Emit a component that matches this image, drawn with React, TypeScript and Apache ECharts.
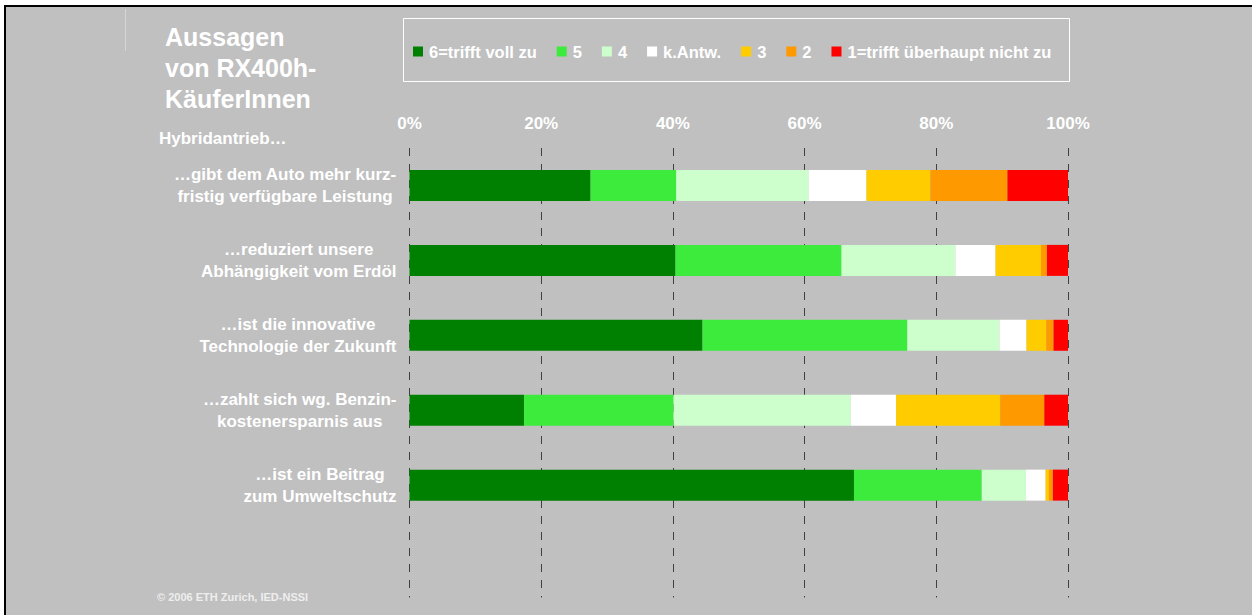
import React, { useEffect, useRef } from 'react';
import * as echarts from 'echarts';

const categories = [
  '…gibt dem Auto mehr kurz-\nfristig verfügbare Leistung',
  '…reduziert unsere\nAbhängigkeit vom Erdöl',
  '…ist die innovative\nTechnologie der Zukunft',
  '…zahlt sich wg. Benzin-\nkostenersparnis aus',
  '…ist ein Beitrag\nzum Umweltschutz',
  '',
];

const seriesNames = ['6=trifft voll zu', '5', '4', 'k.Antw.', '3', '2', '1=trifft überhaupt nicht zu'];
const seriesColors = ['#008000', '#3DEB3D', '#CCFFCC', '#FFFFFF', '#FFCC00', '#FF9900', '#FF0000'];

const s6 = [27.5, 40.4, 44.5, 17.4, 67.5];
const s5 = [13.0, 25.2, 31.1, 22.7, 19.4];
const s4 = [20.1, 17.3, 14.0, 26.9, 6.7];
const sKA = [8.8, 6.1, 4.1, 6.9, 3.0];
const s3 = [9.7, 6.9, 3.0, 15.8, 0.5];
const s2 = [11.7, 0.9, 1.1, 6.7, 0.6];
const s1 = [9.2, 3.2, 2.2, 3.6, 2.3];
const seriesValues = [s6, s5, s4, sKA, s3, s2, s1];

const titleText = 'Aussagen\nvon RX400h-\nKäuferInnen';
const subTitle = 'Hybridantrieb…';
const footerText = '© 2006 ETH Zurich, IED-NSSI';

const FONT = '"Liberation Sans", Arial, sans-serif';

export default function App() {
  const ref = useRef<HTMLDivElement>(null);

  useEffect(() => {
    if (!ref.current) return;
    const chart = echarts.init(ref.current, undefined, { renderer: 'svg' });
    const option: any = {
      animation: false,
      backgroundColor: 'transparent',
      textStyle: { fontFamily: FONT },
      grid: { left: 409.5, right: 184, top: 148, bottom: 17.5 },
      legend: {
        data: seriesNames,
        left: 413,
        top: 43,
        padding: 0,
        itemWidth: 10,
        itemHeight: 10,
        itemGap: 20,
        icon: 'rect',
        textStyle: {
          color: '#FFFFFF',
          fontWeight: 'bold',
          fontSize: 16.5,
          fontFamily: FONT,
          padding: [0, 0, 0, 1],
        },
      },
      xAxis: {
        type: 'value',
        position: 'top',
        min: 0,
        max: 100,
        interval: 20,
        axisLine: { show: false },
        axisTick: { show: false },
        axisLabel: {
          formatter: '{value}%',
          color: '#FFFFFF',
          fontWeight: 'bold',
          fontSize: 17,
          fontFamily: FONT,
          margin: 16,
        },
        splitLine: {
          show: true,
          lineStyle: { type: [8, 8], color: '#404040', width: 1 },
        },
      },
      yAxis: {
        type: 'category',
        inverse: true,
        data: categories,
        axisLine: { show: false },
        axisTick: { show: false },
        splitLine: { show: false },
        axisLabel: {
          align: 'right',
          margin: 13,
          formatter: (v: string) =>
            v
              .split('\n')
              .map((l) => `{c|${l}}`)
              .join('\n'),
          rich: {
            c: {
              align: 'center',
              color: '#FFFFFF',
              fontWeight: 'bold',
              fontSize: 17,
              fontFamily: FONT,
              lineHeight: 22,
            },
          },
        },
      },
      series: seriesNames.map((name, i) => ({
        name,
        type: 'bar',
        stack: 'total',
        barWidth: 31,
        itemStyle: { color: seriesColors[i] },
        emphasis: { disabled: true },
        data: seriesValues[i],
      })),
      graphic: [
        {
          type: 'line',
          shape: { x1: 125.5, y1: 9, x2: 125.5, y2: 51 },
          style: { stroke: '#D6D6D6', lineWidth: 1 },
        },
        {
          type: 'rect',
          shape: { x: 403.5, y: 18.5, width: 666, height: 63 },
          style: { fill: 'none', stroke: '#FFFFFF', lineWidth: 1 },
        },
        {
          type: 'text',
          x: 165,
          y: 21.5,
          style: {
            text: titleText,
            fill: '#FFFFFF',
            font: `bold 25px ${FONT}`,
            lineHeight: 31,
            textVerticalAlign: 'top',
          },
        },
        {
          type: 'text',
          x: 159,
          y: 138,
          style: {
            text: subTitle,
            fill: '#FFFFFF',
            font: `bold 17px ${FONT}`,
            textVerticalAlign: 'middle',
          },
        },
        {
          type: 'text',
          x: 157,
          y: 597,
          style: {
            text: footerText,
            fill: '#EEEEEE',
            font: `bold 11px ${FONT}`,
            textVerticalAlign: 'middle',
          },
        },
      ],
    };
    chart.setOption(option);
    return () => chart.dispose();
  }, []);

  return (
    <div style={{ position: 'fixed', left: 0, top: 0, width: 1252, height: 615, background: '#FFFFFF' }}>
      <div
        style={{
          position: 'absolute',
          left: 4,
          top: 5,
          width: 1248,
          height: 610,
          background: '#C0C0C0',
          borderTop: '2px solid #000000',
          borderLeft: '2px solid #000000',
          boxSizing: 'border-box',
        }}
      />
      <div ref={ref} style={{ position: 'absolute', left: 0, top: 0, width: 1252, height: 615 }} />
    </div>
  );
}
